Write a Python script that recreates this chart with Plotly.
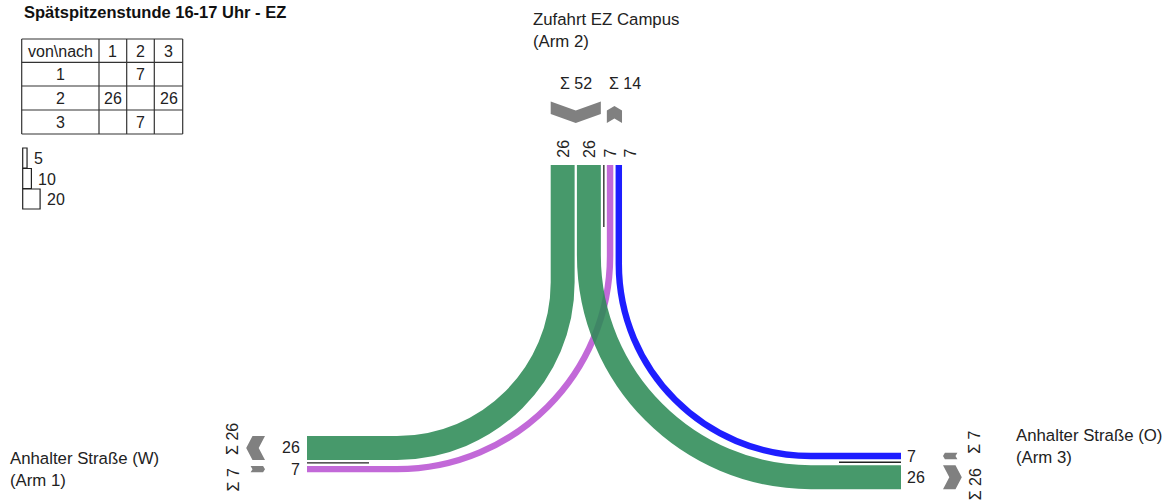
import math
import plotly.graph_objects as go

# ---------------- data ----------------
TITLE = "Spätspitzenstunde 16-17 Uhr - EZ"
ARM_IDS = [1, 2, 3]
ARM_LABELS = {
    1: "Anhalter Straße (W)<br>(Arm 1)",
    2: "Zufahrt EZ Campus<br>(Arm 2)",
    3: "Anhalter Straße (O)<br>(Arm 3)",
}
TABLE_CORNER = "von\\nach"
# origin (row) -> destination (column)
OD_MATRIX = [
    [None, 7, None],
    [26, None, 26],
    [None, 7, None],
]
FLOW_COLORS = {(2, 1): "seagreen", (2, 3): "seagreen", (1, 2): "mediumorchid", (3, 2): "blue"}
LEGEND_VALUES = [5, 10, 20]

# ---------------- styling / layout constants ----------------
W, H = 1170, 501
S = 0.92          # px per vehicle
GAP = 2.3         # gap between lanes
DIV = 6.0         # gap between directions (divider)
STUB = 62         # divider length at arm end
R_OFF = 90        # turn radius = shorter leg - R_OFF
KAPPA = 0.5523
FONT = "Liberation Sans, Arial, sans-serif"
TXT = "#222"
FS = 16
FS_ARM = 16.8

# arm geometry: lateral axis, end coordinate along arm, inward direction, lateral start, group order
ARMS = {
    2: dict(lat="x", end=165, inward=1, start=550.7, groups=["out", "in"], order=[1, 3]),
    1: dict(lat="y", end=307, inward=1, start=436.0, groups=["in", "out"], order=[2, 3]),
    3: dict(lat="y", end=901, inward=-1, start=452.8, groups=["out", "in"], order=[1, 2]),
}

flows = []
for i, o in enumerate(ARM_IDS):
    for j, d in enumerate(ARM_IDS):
        v = OD_MATRIX[i][j]
        if v:
            flows.append((o, d, v))


def pt(arm, lat, along):
    g = ARMS[arm]
    return (lat, along) if g["lat"] == "x" else (along, lat)


# lane positions
lane_pos = {}
lane_order = {}
groups_info = {}
dividers = {}
for arm, g in ARMS.items():
    cur = g["start"]
    infos = []
    lane_order[arm] = []
    for gi, kind in enumerate(g["groups"]):
        if kind == "out":
            lanes = sorted([f for f in flows if f[0] == arm], key=lambda f: g["order"].index(f[1]))
        else:
            lanes = sorted([f for f in flows if f[1] == arm], key=lambda f: g["order"].index(f[0]))
        lo = cur
        for f in lanes:
            w = S * f[2]
            lane_pos[(f, arm)] = cur + w / 2
            lane_order[arm].append(f)
            cur += w + GAP
        hi = cur - GAP
        infos.append((kind, lo, hi, sum(f[2] for f in lanes), lanes))
        if gi == 0:
            dividers[arm] = hi + DIV / 2
            cur = hi + DIV
    groups_info[arm] = infos

shapes = []
annotations = []


def unit(p, q):
    dx, dy = q[0] - p[0], q[1] - p[1]
    n = math.hypot(dx, dy)
    return (dx / n, dy / n), n


# flow bands
for f in sorted(flows, key=lambda f: f[2]):
    a, b, v = f
    ga, gb = ARMS[a], ARMS[b]
    A0 = pt(a, lane_pos[(f, a)], ga["end"])
    B0 = pt(b, lane_pos[(f, b)], gb["end"])
    C = (A0[0], B0[1]) if ga["lat"] == "x" else (B0[0], A0[1])
    ua, la = unit(A0, C)
    ub, lb = unit(C, B0)
    R = min(la, lb) - R_OFF
    P = (C[0] - R * ua[0], C[1] - R * ua[1])
    Q = (C[0] + R * ub[0], C[1] + R * ub[1])
    c1 = (P[0] + KAPPA * R * ua[0], P[1] + KAPPA * R * ua[1])
    c2 = (Q[0] - KAPPA * R * ub[0], Q[1] - KAPPA * R * ub[1])
    path = (f"M {A0[0]:.2f},{A0[1]:.2f} L {P[0]:.2f},{P[1]:.2f} "
            f"C {c1[0]:.2f},{c1[1]:.2f} {c2[0]:.2f},{c2[1]:.2f} {Q[0]:.2f},{Q[1]:.2f} "
            f"L {B0[0]:.2f},{B0[1]:.2f}")
    shapes.append(dict(type="path", path=path, xref="x", yref="y",
                       line=dict(color=FLOW_COLORS[(a, b)], width=S * v),
                       fillcolor="rgba(0,0,0,0)", opacity=0.88, layer="above"))

# dividers
for arm, g in ARMS.items():
    p0 = pt(arm, dividers[arm], g["end"])
    p1 = pt(arm, dividers[arm], g["end"] + g["inward"] * STUB)
    shapes.append(dict(type="line", x0=p0[0], y0=p0[1], x1=p1[0], y1=p1[1], xref="x", yref="y",
                       line=dict(color="#222", width=1.3)))

# lane value labels (spread so they do not overlap)
MIN_SEP = 20
for arm, g in ARMS.items():
    prev = -1e9
    for f in lane_order[arm]:
        lat = max(lane_pos[(f, arm)], prev + MIN_SEP)
        prev = lat
        v = f[2]
        if arm == 2:
            annotations.append(dict(x=lat, y=g["end"] - 5, text=str(v), textangle=-90,
                                    xanchor="center", yanchor="bottom"))
        elif arm == 1:
            annotations.append(dict(x=g["end"] - 5, y=lat, text=str(v), xanchor="right", yanchor="middle"))
        else:
            annotations.append(dict(x=g["end"] + 4, y=lat, text=str(v), xanchor="left", yanchor="middle"))

# direction chevrons and sums
REF_OFF = 42
T = 12.5
for arm, g in ARMS.items():
    ref = g["end"] - g["inward"] * REF_OFF
    out_dir = -g["inward"]
    for gi, (kind, lo, hi, total, lanes) in enumerate(groups_info[arm]):
        w = hi - lo
        d = 14 * w * w / (w * w + 25 * w + 100)
        m = (lo + hi) / 2
        if kind == "out":
            loc = [(lo, d), (m, 0), (hi, d), (hi, d + T), (m, T), (lo, d + T)]
        else:
            loc = [(lo, 0), (m, d), (hi, 0), (hi, T), (m, T + d), (lo, T)]
        pts = [pt(arm, lat, ref + out_dir * u) for lat, u in loc]
        path = "M " + " L ".join(f"{x:.2f},{y:.2f}" for x, y in pts) + " Z"
        shapes.append(dict(type="path", path=path, xref="x", yref="y",
                           fillcolor="#808080", line=dict(width=0)))
        label = f"Σ {total}"
        if arm == 2:
            if gi == 0:
                annotations.append(dict(x=hi - 7, y=ref - 40, text=label, xanchor="right", yanchor="middle"))
            else:
                annotations.append(dict(x=lo, y=ref - 40, text=label, xanchor="left", yanchor="middle"))
        else:
            x = ref + out_dir * 32
            if gi == 0:
                annotations.append(dict(x=x, y=hi - 3, text=label, textangle=-90,
                                        xanchor="center", yanchor="bottom"))
            else:
                annotations.append(dict(x=x, y=lo + 1, text=label, textangle=-90,
                                        xanchor="center", yanchor="top"))

# arm labels
ARM_LABEL_POS = {2: (531, 30), 1: (8, 469), 3: (1014, 446)}
for arm in ARM_IDS:
    x, y = ARM_LABEL_POS[arm]
    annotations.append(dict(x=x, y=y, text=ARM_LABELS[arm], xanchor="left", yanchor="middle", align="left",
                            font=dict(size=FS_ARM, color=TXT, family=FONT)))

# title
annotations.append(dict(x=22, y=12, text=f"<b>{TITLE}</b>", xanchor="left", yanchor="middle",
                        font=dict(size=16.5, color="#111", family=FONT)))

# OD table
TX = [21.7, 99, 126.7, 154.3, 182.7]
TY = [39, 62.3, 86, 110, 134]
for xv in TX:
    shapes.append(dict(type="line", x0=xv, x1=xv, y0=TY[0], y1=TY[-1], xref="x", yref="y",
                       line=dict(color="#333", width=1.2)))
for yv in TY:
    shapes.append(dict(type="line", x0=TX[0], x1=TX[-1], y0=yv, y1=yv, xref="x", yref="y",
                       line=dict(color="#333", width=1.2)))
cells = [[TABLE_CORNER] + [str(a) for a in ARM_IDS]]
for i, o in enumerate(ARM_IDS):
    cells.append([str(o)] + [("" if v is None else str(v)) for v in OD_MATRIX[i]])
for r, row in enumerate(cells):
    for c, txt in enumerate(row):
        if txt:
            annotations.append(dict(x=(TX[c] + TX[c + 1]) / 2, y=(TY[r] + TY[r + 1]) / 2 + 0.5,
                                    text=txt, xanchor="center", yanchor="middle"))

# width legend
for i, v in enumerate(LEGEND_VALUES):
    y0 = 148 + i * 20.5
    x0 = 22.7
    shapes.append(dict(type="rect", x0=x0, x1=x0 + 0.87 * v, y0=y0, y1=y0 + 20, xref="x", yref="y",
                       line=dict(color="#222", width=1.2), fillcolor="rgba(0,0,0,0)"))
    annotations.append(dict(x=x0 + 0.87 * v + 4.5, y=y0 + 10.5, text=str(v), xanchor="left", yanchor="middle"))

for a in annotations:
    a.setdefault("showarrow", False)
    a.setdefault("xref", "x")
    a.setdefault("yref", "y")
    a.setdefault("font", dict(size=FS, color=TXT, family=FONT))

fig = go.Figure()
fig.update_layout(
    width=W, height=H, margin=dict(l=0, r=0, t=0, b=0),
    paper_bgcolor="white", plot_bgcolor="white",
    xaxis=dict(range=[0, W], visible=False, fixedrange=True),
    yaxis=dict(range=[H, 0], visible=False, fixedrange=True),
    shapes=shapes, annotations=annotations, showlegend=False,
)
fig.write_html("out.html", config={"displayModeBar": False},
               post_script="document.body.style.margin='0';")
